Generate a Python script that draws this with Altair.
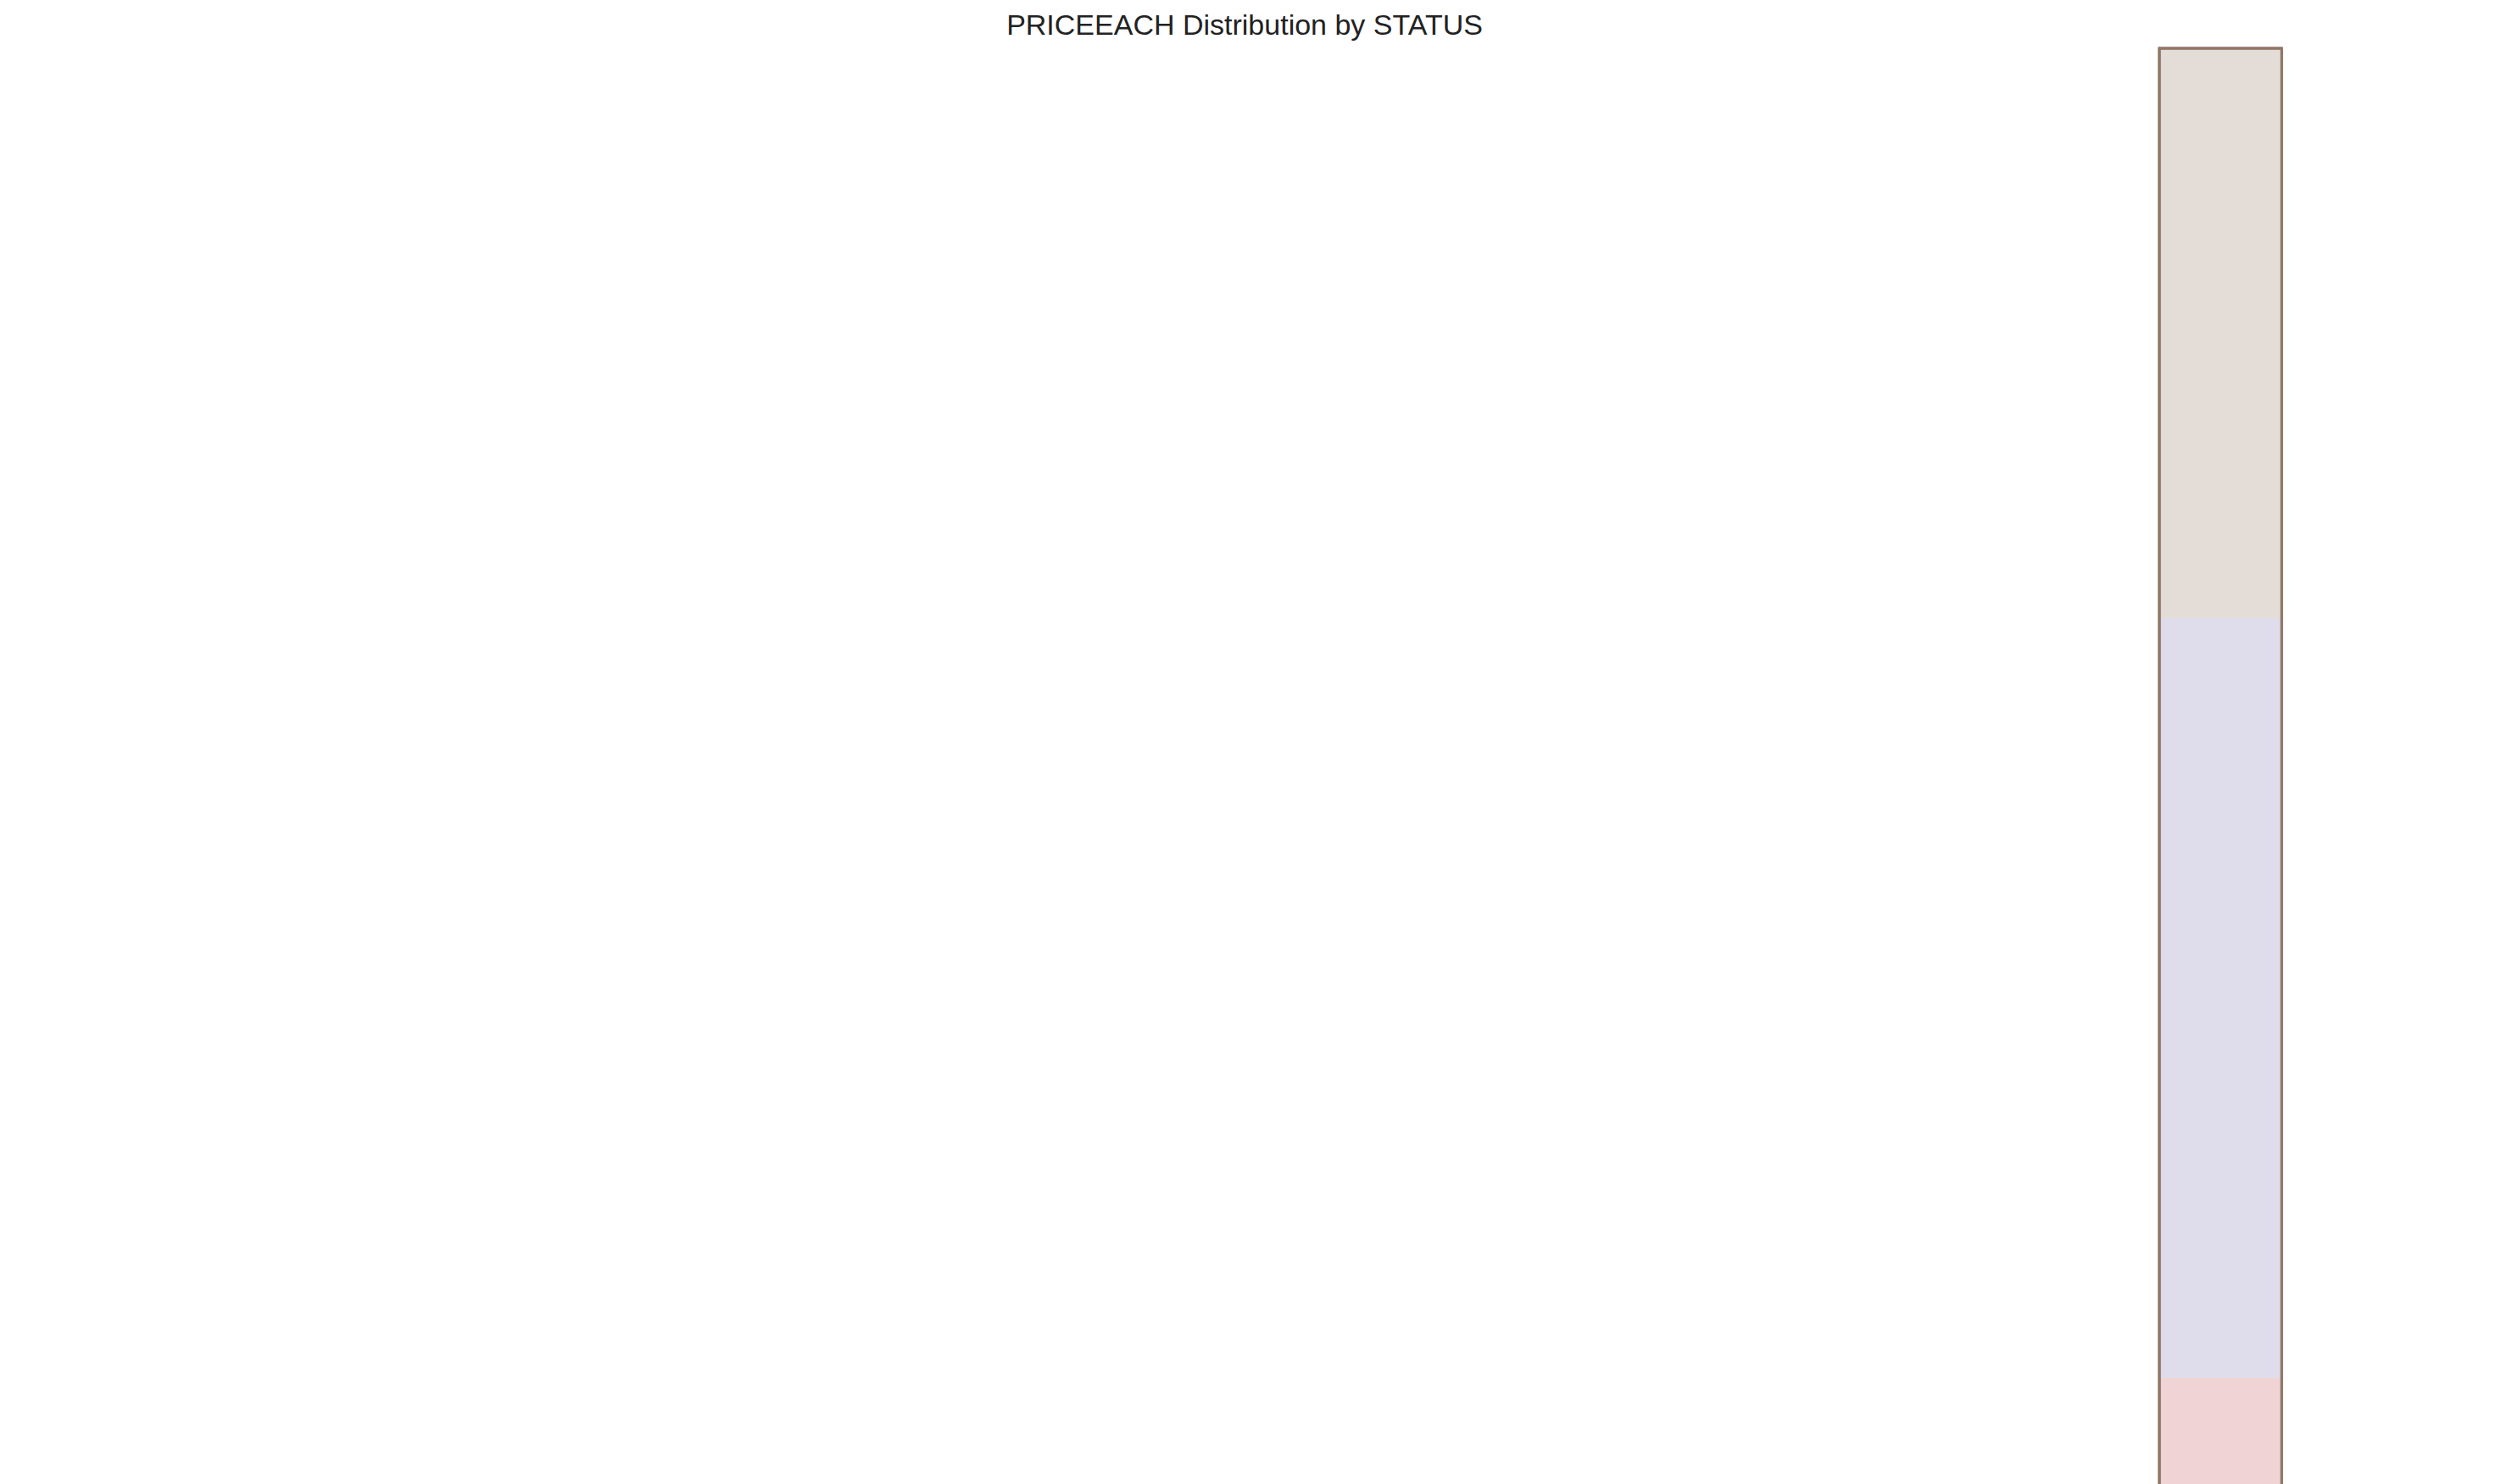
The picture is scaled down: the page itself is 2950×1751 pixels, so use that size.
import altair as alt
import pandas as pd

statuses = ["Shipped", "Disputed", "In Process", "Cancelled", "On Hold", "Resolved"]
colors = ["#4c72b0", "#dd8452", "#55a868", "#c44e52", "#8172b3", "#937860"]

# 17 bins from 26.88 to 100, width 4.3
bin_edges = [26.88, 31.18, 35.48, 39.78, 44.08, 48.38, 52.68, 56.98, 61.28, 65.58,
             69.88, 74.18, 78.48, 82.78, 87.08, 91.38, 95.68, 100.0]

hist_density = {
    "Shipped":    [0.002, 0.003, 0.004, 0.005, 0.006, 0.007, 0.0065, 0.0085, 0.009, 0.009,
                   0.0105, 0.0095, 0.0098, 0.0105, 0.0095, 0.007, 0.1175],
    "Disputed":   [0, 0, 0, 0, 0, 0, 0, 0.0332, 0, 0.0332, 0, 0, 0, 0, 0, 0, 0.166],
    "In Process": [0.0056, 0.0056, 0, 0.0112, 0.0112, 0.0112, 0, 0.017, 0.017, 0.0056,
                   0, 0, 0.0112, 0.0112, 0.0112, 0.0112, 0.102],
    "Cancelled":  [0.002, 0.002, 0.004, 0.004, 0.004, 0.004, 0.004, 0.0075, 0.011, 0.011,
                   0.0233, 0.0195, 0.008, 0.0155, 0.0155, 0.004, 0.105],
    "On Hold":    [0, 0.0055, 0.003, 0.003, 0.003, 0.005, 0.005, 0.005, 0.0105, 0.005,
                   0.021, 0.0317, 0.009, 0.0055, 0.016, 0.0105, 0.106],
    "Resolved":   [0.005, 0.005, 0.01, 0.005, 0.005, 0.005, 0.025, 0.004, 0.0115, 0.0055,
                   0.005, 0.005, 0.01, 0.0298, 0.005, 0.025, 0.0795],
}

kde_points = {
    "Shipped":    ([27, 40, 50, 60, 65, 75, 85, 90, 93, 95, 97, 100],
                   [0.001, 0.004, 0.0065, 0.0085, 0.0095, 0.0095, 0.0095, 0.0105, 0.016, 0.028, 0.042, 0.0485]),
    "Disputed":   ([27, 40, 50, 55, 60, 65, 70, 75, 80, 85, 90, 95, 100],
                   [0.0, 0.0005, 0.003, 0.0065, 0.009, 0.0095, 0.0085, 0.008, 0.008, 0.011, 0.018, 0.025, 0.0285]),
    "In Process": ([27, 40, 50, 57, 65, 70, 75, 80, 85, 90, 95, 100],
                   [0.003, 0.0065, 0.009, 0.0095, 0.0085, 0.008, 0.008, 0.0095, 0.013, 0.0165, 0.019, 0.019]),
    "Cancelled":  ([27, 40, 50, 60, 65, 70, 75, 80, 85, 90, 95, 100],
                   [0.0003, 0.003, 0.0045, 0.0065, 0.0095, 0.0135, 0.015, 0.015, 0.016, 0.019, 0.024, 0.0255]),
    "On Hold":    ([27, 40, 50, 55, 62, 68, 75, 80, 85, 90, 95, 100],
                   [0.0005, 0.002, 0.002, 0.0025, 0.006, 0.012, 0.0158, 0.0162, 0.018, 0.021, 0.026, 0.027]),
    "Resolved":   ([27, 40, 50, 57, 65, 75, 80, 85, 90, 95, 100],
                   [0.0025, 0.006, 0.0085, 0.0095, 0.0095, 0.0095, 0.012, 0.016, 0.019, 0.021, 0.0205]),
}

rows = []
for s in statuses:
    vals = hist_density[s] + [hist_density[s][-1]]
    for i, e in enumerate(bin_edges):
        rows.append({"STATUS": s, "x": e, "y": vals[i], "order": i})
hist_df = pd.DataFrame(rows)

krows = []
for s in statuses:
    xs, ys = kde_points[s]
    for x, y in zip(xs, ys):
        krows.append({"STATUS": s, "x": x, "y": y})
kde_df = pd.DataFrame(krows)

color = alt.Color("STATUS:N", scale=alt.Scale(domain=statuses, range=colors),
                  sort=statuses,
                  legend=alt.Legend(title="STATUS", orient="top-left", symbolType="square",
                                    symbolSize=700, symbolStrokeWidth=2,
                                    titleFontSize=30, labelFontSize=30, titleFontWeight="normal",
                                    labelFont="Liberation Sans", titleFont="Liberation Sans",
                                    titleAnchor="middle",
                                    fillColor="white", strokeColor="#cccccc", padding=18,
                                    cornerRadius=4, rowPadding=12, labelLimit=400, offset=24))

xs = alt.X("x:Q", title="PRICEEACH", scale=alt.Scale(domain=[23.2, 103.5], nice=False),
           axis=alt.Axis(values=[30, 40, 50, 60, 70, 80, 90, 100]))
ys = alt.Y("y:Q", title="Density", scale=alt.Scale(domain=[0, 0.175], nice=False),
           axis=alt.Axis(values=[0, 0.02, 0.04, 0.06, 0.08, 0.1, 0.12, 0.14, 0.16], format=".2f"))

hist = alt.Chart(hist_df).mark_area(interpolate="step-after", fillOpacity=0.25,
                                    line={"strokeWidth": 2.5}).encode(
    x=xs, y=ys, color=color, order="order:Q")

kde = alt.Chart(kde_df).mark_line(interpolate="monotone", strokeWidth=4).encode(
    x="x:Q", y="y:Q", color=alt.Color("STATUS:N", scale=alt.Scale(domain=statuses, range=colors), legend=None))

chart = (hist + kde).properties(
    width=2680, height=1480,
    title=alt.Title("PRICEEACH Distribution by STATUS", fontSize=34, fontWeight="normal",
                    font="Liberation Sans", color="#222222"),
    background="white",
).configure_view(stroke="#cccccc", strokeWidth=3).configure_axis(
    grid=True, gridColor="#cccccc", gridWidth=2.5, domain=False, tickColor="#333333",
    tickSize=8, labelFontSize=30, titleFontSize=34, labelFont="Liberation Sans",
    titleFont="Liberation Sans", titleFontWeight="normal", labelColor="#222222",
    titleColor="#222222", labelPadding=10,
)

chart.save("out.html", embed_options={"renderer": "svg", "actions": False})
